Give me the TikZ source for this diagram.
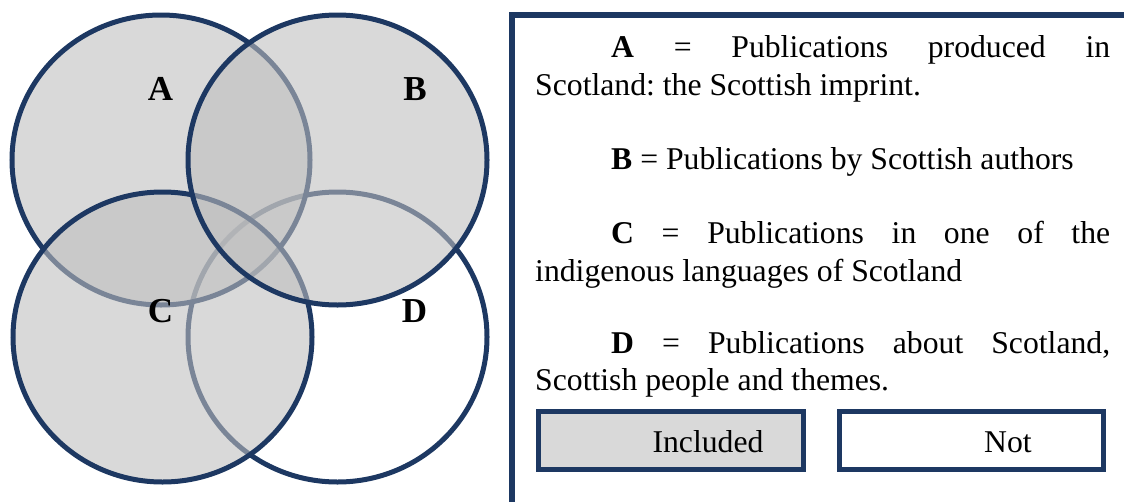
\documentclass[tikz,border=0pt]{standalone}
\usepackage{fontspec}
\setmainfont{Liberation Serif}
\frenchspacing
\definecolor{navy}{RGB}{29,56,98}
\definecolor{setgray}{RGB}{190,190,190}
\definecolor{boxgray}{RGB}{217,217,217}
\begin{document}
\begin{tikzpicture}[x=1pt,y=-1pt,
  setline/.style={draw=navy,line width=5pt},
  setfill/.style={setline,fill=setgray,fill opacity=0.58,draw opacity=1},
  setlabel/.style={anchor=base,inner sep=0pt,font=\fontsize{35}{40}\selectfont\bfseries},
  body/.style={anchor=base west,inner sep=0pt,font=\fontsize{31.7}{38}\selectfont},
  keybox/.style={draw=navy,line width=5pt}]
\useasboundingbox (0,0) rectangle (1124,501);
% sets (D unfilled, drawn first)
\draw[setline] (337.5,337) ellipse [x radius=149.5, y radius=145];
\draw[setfill] (161,160) ellipse [x radius=149, y radius=145];
\draw[setfill] (162.5,337) ellipse [x radius=149.5, y radius=145];
\draw[setfill] (337.5,160) ellipse [x radius=149.5, y radius=145];
% set labels
\node[setlabel] (la) at (160.5,100) {A};
\node[setlabel] (lb) at (415,100) {B};
\node[setlabel] (lc) at (160.5,322) {C};
\node[setlabel] (ld) at (414.5,322) {D};
% legend panel
\draw[navy,line width=6pt] (1140,15) -- (512,15) -- (512,520);
\node[body] (ta1) at (611,57) {\makebox[499pt][s]{\textbf{A} = Publications produced in}};
\node[body] (ta2) at (535,95) {Scotland: the Scottish imprint.};
\node[body] (tb1) at (611,169) {\textbf{B} = Publications by Scottish authors};
\node[body] (tc1) at (611,243) {\makebox[499pt][s]{\textbf{C} = Publications in one of the}};
\node[body] (tc2) at (535,281) {indigenous languages of Scotland};
\node[body] (td1) at (611,353) {\makebox[499pt][s]{\textbf{D} = Publications about Scotland,}};
\node[body] (td2) at (535,390) {Scottish people and themes.};
% key boxes
\draw[keybox,fill=boxgray] (538.8,411) rectangle (803,469.7);
\draw[keybox,fill=white] (839.3,411) rectangle (1103.5,469.7);
\node[body,anchor=base] (inc) at (708,452.5) {Included};
\node[body,anchor=base] (not) at (1008,452.5) {Not};
\end{tikzpicture}
\end{document}
